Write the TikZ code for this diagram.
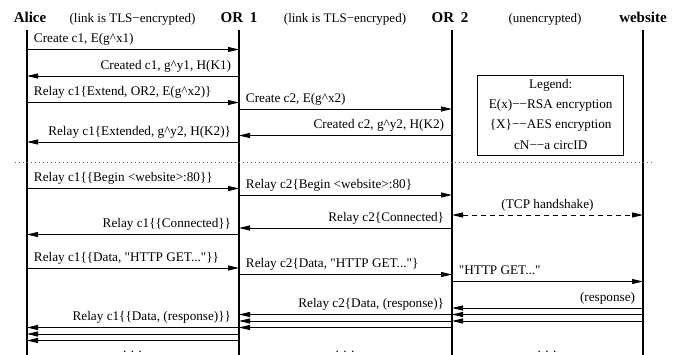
\documentclass[tikz,border=0pt]{standalone}
\usepackage{fontspec}
\setmainfont{Liberation Serif}[Ligatures=TeXOff]
\usetikzlibrary{arrows.meta}
\newcommand\rmsg[5]{\draw[msg] (#1 |- 0,#3) -- (#2 |- 0,#3) node[lbl,pos=0,anchor=base west,xshift=6.5pt,yshift=7pt] (#5) {#4};}
\newcommand\lmsg[5]{\draw[msg] (#1 |- 0,#3) -- (#2 |- 0,#3) node[lbl,pos=0,anchor=base east,xshift=-7.5pt,yshift=7pt] (#5) {#4};}
\begin{document}
\begin{tikzpicture}[x=1pt,y=-1pt,
  msg/.style={draw=black,line width=0.9pt,-{Triangle[length=11pt,width=5pt]}},
  life/.style={draw=black,line width=1.1pt},
  lbl/.style={inner sep=0pt,font=\fontsize{13.2}{15}\selectfont},
  head/.style={inner sep=0pt,font=\fontsize{15}{17}\selectfont\bfseries,anchor=base},
  link/.style={inner sep=0pt,font=\fontsize{13}{15}\selectfont,anchor=base},
]
\useasboundingbox (0,0) rectangle (681,354);
% lifelines
\coordinate (A) at (27,30);
\coordinate (B) at (239,30);
\coordinate (C) at (452,30);
\coordinate (D) at (643,30);
\coordinate (Ab) at (27,360);
\coordinate (Bb) at (239,360);
\coordinate (Cb) at (452,360);
\coordinate (Db) at (643,360);
\draw[life] (A) -- (Ab);
\draw[life] (B) -- (Bb);
\draw[life] (C) -- (Cb);
\draw[life] (D) -- (Db);
% headers
\node[head] (hA) at (30,22.5) {Alice};
\node[head] (hB) at (239,22.5) {OR\hspace{0.45em}1};
\node[head] (hC) at (450,22.5) {OR\hspace{0.45em}2};
\node[head] (hD) at (643,22.5) {website};
\node[link] (l1) at (132.5,22.5) {(link is TLS−encrypted)};
\node[link] (l2) at (345,22.5) {(link is TLS−encryped)};
\node[link] (l3) at (545,22.5) {(unencrypted)};
% phase 1
\rmsg{A}{B}{49.5}{Create c1, E(g\textasciicircum x1)}{m1}
\lmsg{B}{A}{76}{Created c1, g\textasciicircum y1, H(K1)}{m2}
\rmsg{A}{B}{102.5}{Relay c1\{Extend, OR2, E(g\textasciicircum x2)\}}{m3}
\rmsg{B}{C}{109}{Create c2, E(g\textasciicircum x2)}{m4}
\lmsg{C}{B}{135.5}{Created c2, g\textasciicircum y2, H(K2)}{m5}
\lmsg{B}{A}{142}{Relay c1\{Extended, g\textasciicircum y2, H(K2)\}}{m6}
% legend
\node[draw=black,line width=0.8pt,minimum width=146pt,minimum height=80pt,inner sep=0pt] (legend) at (550.7,115.7) {};
\node[lbl] (lg1) at (550.7,85) {Legend:};
\node[lbl] (lg2) at (550.7,105) {E(x)−−RSA encryption};
\node[lbl] (lg3) at (550.7,125) {\{X\}−−AES encryption};
\node[lbl] (lg4) at (550.7,145) {cN−−a circID};
% separator
\coordinate (s1) at (15,162);
\coordinate (s2) at (653,162);
\draw[black!60,line width=0.8pt,dash pattern=on 1pt off 3pt] (s1) -- (s2);
% phase 2
\rmsg{A}{B}{188.5}{Relay c1\{\{Begin <website>:80\}\}}{m7}
\rmsg{B}{C}{195}{Relay c2\{Begin <website>:80\}}{m8}
\draw[msg,dash pattern=on 5pt off 4pt,{Triangle[length=11pt,width=5pt]}-{Triangle[length=11pt,width=5pt]}] (C |- 0,215) -- (D |- 0,215) node[lbl,midway,anchor=base,yshift=7pt] (tcp) {(TCP handshake)};
\lmsg{C}{B}{228}{Relay c2\{Connected\}}{m10}
\lmsg{B}{A}{234.5}{Relay c1\{\{Connected\}\}}{m11}
% phase 3
\rmsg{A}{B}{268}{Relay c1\{\{Data, "HTTP GET..."\}\}}{m12}
\rmsg{B}{C}{274.5}{Relay c2\{Data, "HTTP GET..."\}}{m13}
\rmsg{C}{D}{281.5}{"HTTP GET..."}{m14}
\lmsg{D}{C}{308}{(response)}{m15}
\draw[msg] (D |- 0,314.5) -- (C |- 0,314.5);
\draw[msg] (D |- 0,321) -- (C |- 0,321);
\lmsg{C}{B}{314.5}{Relay c2\{Data, (response)\}}{m16}
\draw[msg] (C |- 0,321) -- (B |- 0,321);
\draw[msg] (C |- 0,327.5) -- (B |- 0,327.5);
\lmsg{B}{A}{327.5}{Relay c1\{\{Data, (response)\}\}}{m17}
\draw[msg] (B |- 0,334) -- (A |- 0,334);
\draw[msg] (B |- 0,340.5) -- (A |- 0,340.5);
% continuation dots
\node[lbl,anchor=base] (d1) at (132.5,352.5) {. . .};
\node[lbl,anchor=base] (d2) at (345,352.5) {. . .};
\node[lbl,anchor=base] (d3) at (547,352.5) {. . .};
\end{tikzpicture}
\end{document}
